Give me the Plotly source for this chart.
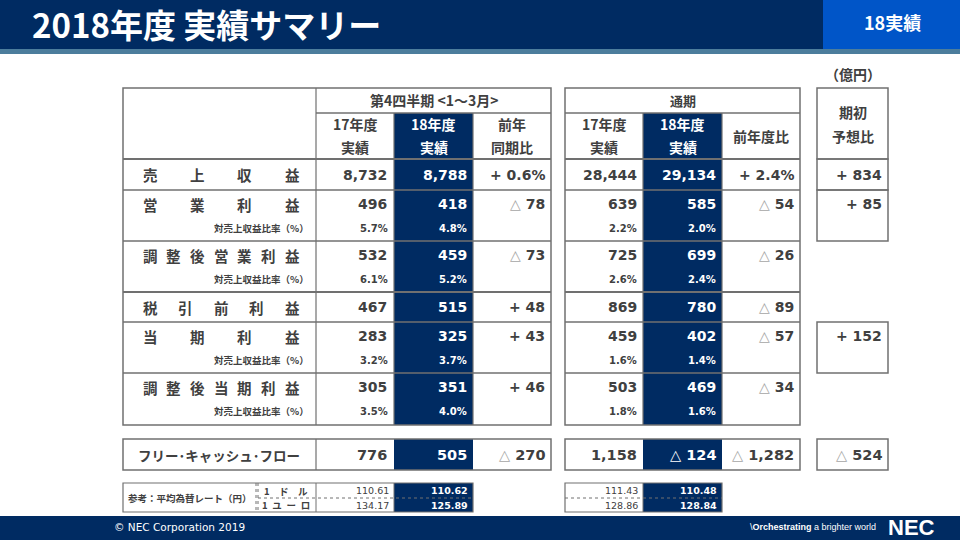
import plotly.graph_objects as go

# 2018年度 実績サマリー (億円)
row_labels = ["売上収益", "営業利益", "調整後営業利益", "税引前利益", "当期利益", "調整後当期利益"]
q4_fy17 = [8732, 496, 532, 467, 283, 305]
q4_fy18 = [8788, 418, 459, 515, 325, 351]
q4_diff = [0.6, -78, -73, 48, 43, 46]
q4_ratio17 = [None, 5.7, 6.1, None, 3.2, 3.5]
q4_ratio18 = [None, 4.8, 5.2, None, 3.7, 4.0]
fy_fy17 = [28444, 639, 725, 869, 459, 503]
fy_fy18 = [29134, 585, 699, 780, 402, 469]
fy_diff = [2.4, -54, -26, -89, -57, -34]
fy_ratio17 = [None, 2.2, 2.6, None, 1.6, 1.8]
fy_ratio18 = [None, 2.0, 2.4, None, 1.4, 1.6]
forecast_diff = [834, 85, None, None, 152, None]

fcf_label = "フリー･キャッシュ･フロー"
fcf_q4 = [776, 505, -270]
fcf_fy = [1158, -124, -1282]
fcf_forecast = -524

fx_labels = ["1　ド　ル", "1\u2002ユ\u2002ー\u2002ロ"]
fx_q4_17 = [110.61, 134.17]
fx_q4_18 = [110.62, 125.89]
fx_fy_17 = [111.43, 128.86]
fx_fy_18 = [110.48, 128.84]

NAVY = "#002b62"
TXT = "#404040"
GRID = "#707070"
JP = "Noto Sans CJK JP"
NUM = "DejaVu Sans"

fig = go.Figure()
shapes = []
ann = []


def rect(x0, y0, x1, y1, fill=None, line=None, lw=1.5, dash=None):
    shapes.append(dict(type="rect", x0=x0, y0=y0, x1=x1, y1=y1, xref="x", yref="y",
                       fillcolor=fill if fill else "rgba(0,0,0,0)",
                       line=dict(color=line if line else "rgba(0,0,0,0)", width=lw if line else 0,
                                 dash=dash or "solid"),
                       layer="below"))


def hline(x0, x1, y, color=GRID, lw=1.5, dash=None):
    shapes.append(dict(type="line", x0=x0, x1=x1, y0=y, y1=y, xref="x", yref="y",
                       line=dict(color=color, width=lw, dash=dash or "solid")))


def vline(x, y0, y1, color=GRID, lw=1.2, dash=None):
    shapes.append(dict(type="line", x0=x, x1=x, y0=y0, y1=y1, xref="x", yref="y",
                       line=dict(color=color, width=lw, dash=dash or "solid")))


def text(x, y, s, size=13, color=TXT, anchor="center", font=JP, bold=True):
    if bold:
        s = "<b>" + s + "</b>"
    ann.append(dict(x=x, y=y, xref="x", yref="y", text=s, showarrow=False,
                    xanchor=anchor, yanchor="middle",
                    font=dict(family=font, size=size, color=color)))


def fmt_num(v, navy=False):
    tri = "#ffffff" if navy else "#a6a6a6"
    if v < 0:
        return '<span style="color:%s">△</span> %s' % (tri, format(-v, ","))
    return format(v, ",")


def fmt_diff(v, pct=False, navy=False):
    if pct:
        return "+ %.1f%%" % v if v >= 0 else "△ %.1f%%" % -v
    if v >= 0:
        return "+ " + format(v, ",")
    return fmt_num(v, navy)


# ---- header / footer bars
rect(0, 0, 960, 49, fill=NAVY)
rect(823, 0, 960, 49, fill="#0055c8")
rect(0, 49, 960, 54, fill="#4c7d9c")
rect(0, 516, 960, 540, fill=NAVY)
text(30, 24, "2018年度 実績サマリー", size=33, color="white", anchor="left")
text(892, 22, "18実績", size=18, color="white")
text(112, 527, "© NEC Corporation 2019", size=10.5, color="white", anchor="left", font=NUM, bold=False)
text(748, 527, "\\<b>Orchestrating</b> a brighter world", size=9, color="white", anchor="left",
     font="Liberation Sans", bold=False)
text(911, 527, "NEC", size=22, color="white", font="Liberation Sans")
text(853, 74, "（億円）", size=14)

# ---- table geometry
L0, L1, L2, L3, L4 = 123, 316, 394, 473, 551
M0, M1, M2, M3 = 565, 643, 722, 800
R0, R1 = 817, 888
TOP, SUB, BODY = 88, 113, 159
row_top = [159, 190, 241, 292, 322, 373]
row_bot = [190, 241, 292, 322, 373, 425]
BOT = 425

# navy columns
rect(L2, SUB, L3, BOT, fill=NAVY)
rect(M1, SUB, M2, BOT, fill=NAVY)

# left table lines
rect(L0, TOP, L4, BOT, line=GRID)
hline(L1, L4, SUB)
vline(L1, TOP, BOT)
vline(L2, SUB, BOT)
vline(L3, SUB, BOT)
for y in row_top:
    hline(L0, L4, y, lw=2 if y in (159, 292) else 1.5)
# middle table lines
rect(M0, TOP, M3, BOT, line=GRID)
hline(M0, M3, SUB)
vline(M1, SUB, BOT)
vline(M2, SUB, BOT)
for y in row_top:
    hline(M0, M3, y, lw=2 if y in (159, 292) else 1.5)
# right table boxes
rect(R0, TOP, R1, BODY, line=GRID)
for i, v in enumerate(forecast_diff):
    if v is not None:
        rect(R0, row_top[i], R1, row_bot[i], line=GRID)

# headers
text((L1 + L4) / 2, 100, "第4四半期 &lt;1～3月&gt;", size=14)
text((M0 + M3) / 2, 100, "通期", size=13)
for (xa, xb), lines in [((L1, L2), ["17年度", "実績"]), ((L2, L3), ["18年度", "実績"]),
                        ((L3, L4), ["前年", "同期比"]), ((M0, M1), ["17年度", "実績"]),
                        ((M1, M2), ["18年度", "実績"])]:
    col = "white" if xa in (L2, M1) else TXT
    text((xa + xb) / 2, 124, lines[0], size=14, color=col)
    text((xa + xb) / 2, 147, lines[1], size=14, color=col)
text((M2 + M3) / 2, 136, "前年度比", size=14)
text((R0 + R1) / 2, 112, "期初", size=14)
text((R0 + R1) / 2, 136, "予想比", size=14)

# body rows
for i, lab in enumerate(row_labels):
    double = q4_ratio17[i] is not None
    yv = row_top[i] + 14 if double else (row_top[i] + row_bot[i]) / 2
    n = len(lab)
    for k, ch in enumerate(lab):
        text(150 + k * (292 - 150) / (n - 1), yv, ch, size=14.5)
    pct = i == 0
    text(L2 - 5, yv, fmt_num(q4_fy17[i]), size=14, font=NUM, anchor="right")
    text(L3 - 4, yv, fmt_num(q4_fy18[i], True), size=14, font=NUM, anchor="right", color="white")
    text(L4 - 4, yv, fmt_diff(q4_diff[i], pct), size=14, font=NUM, anchor="right")
    text(M1 - 4, yv, fmt_num(fy_fy17[i]), size=14, font=NUM, anchor="right")
    text(M2 - 4, yv, fmt_num(fy_fy18[i], True), size=14, font=NUM, anchor="right", color="white")
    text(M3 - 4, yv, fmt_diff(fy_diff[i], pct), size=14, font=NUM, anchor="right")
    if forecast_diff[i] is not None:
        text(R1 - 4, yv, fmt_diff(forecast_diff[i]), size=14, font=NUM, anchor="right")
    if double:
        yr = row_top[i] + 38
        text(311, yr, "対売上収益比率（%）", size=9.5, anchor="right")
        text(L2 - 4, yr, "%.1f%%" % q4_ratio17[i], size=10, font=NUM, anchor="right")
        text(L3 - 4, yr, "%.1f%%" % q4_ratio18[i], size=10, font=NUM, anchor="right", color="white")
        text(M1 - 4, yr, "%.1f%%" % fy_ratio17[i], size=10, font=NUM, anchor="right")
        text(M2 - 4, yr, "%.1f%%" % fy_ratio18[i], size=10, font=NUM, anchor="right", color="white")

# free cash flow
F0, F1 = 439, 470
rect(L2, F0, L3, F1, fill=NAVY)
rect(M1, F0, M2, F1, fill=NAVY)
rect(L0, F0, L4, F1, line=GRID)
vline(L1, F0, F1)
rect(M0, F0, M3, F1, line=GRID)
rect(R0, F0, R1, F1, line=GRID)
yf = (F0 + F1) / 2
text((L0 + L1) / 2 - 1, yf, fcf_label, size=13.5)
text(L2 - 5, yf, fmt_num(fcf_q4[0]), size=14.5, font=NUM, anchor="right")
text(L3 - 4, yf, fmt_num(fcf_q4[1], True), size=14.5, font=NUM, anchor="right", color="white")
text(L4 - 4, yf, fmt_diff(fcf_q4[2]), size=14.5, font=NUM, anchor="right")
text(M1 - 4, yf, fmt_num(fcf_fy[0]), size=14.5, font=NUM, anchor="right")
text(M2 - 4, yf, fmt_num(fcf_fy[1], True), size=14.5, font=NUM, anchor="right", color="white")
text(M3 - 4, yf, fmt_diff(fcf_fy[2]), size=14.5, font=NUM, anchor="right")
text(R1 - 4, yf, fmt_diff(fcf_forecast), size=14.5, font=NUM, anchor="right")

# fx reference
X0, XM, X1 = 483, 498, 512
rect(L2, X0, L3, X1, fill=NAVY)
rect(M1, X0, M2, X1, fill=NAVY)
rect(L0, X0, L3, X1, line=GRID, lw=1.2)
rect(M0, X0, M2, X1, line=GRID, lw=1.2)
vline(256, X0, X1, dash="dot", lw=1)
vline(258, X0, X1, dash="dot", lw=1)
vline(L1, X0, X1, lw=1)
vline(L2, X0, X1, lw=1)
vline(M1, X0, X1, lw=1)
hline(258, L3, XM, dash="dot", lw=1)
hline(M0, M2, XM, dash="dot", lw=1)
text(190, (X0 + X1) / 2, "参考：平均為替レート（円）", size=9.5)
for j, yy in enumerate([(X0 + XM) / 2, (XM + X1) / 2]):
    text(286, yy, fx_labels[j], size=9.5)
    text(L2 - 3, yy, "%.2f" % fx_q4_17[j], size=9.5, font=NUM, anchor="right", bold=False)
    text(L3 - 3, yy, "%.2f" % fx_q4_18[j], size=9.5, font=NUM, anchor="right", color="white")
    text(M1 - 3, yy, "%.2f" % fx_fy_17[j], size=9.5, font=NUM, anchor="right", bold=False)
    text(M2 - 3, yy, "%.2f" % fx_fy_18[j], size=9.5, font=NUM, anchor="right", color="white")

fig.update_layout(
    width=960, height=540,
    margin=dict(l=0, r=0, t=0, b=0),
    paper_bgcolor="white", plot_bgcolor="white",
    xaxis=dict(range=[0, 960], visible=False, fixedrange=True),
    yaxis=dict(range=[540, 0], visible=False, fixedrange=True),
    shapes=shapes, annotations=ann, showlegend=False,
)
# drop the browser's default 8px body margin so the slide fills the window
fig.write_html("out.html", config={"displayModeBar": False},
               post_script="document.body.style.margin='0';document.body.style.overflow='hidden';")
